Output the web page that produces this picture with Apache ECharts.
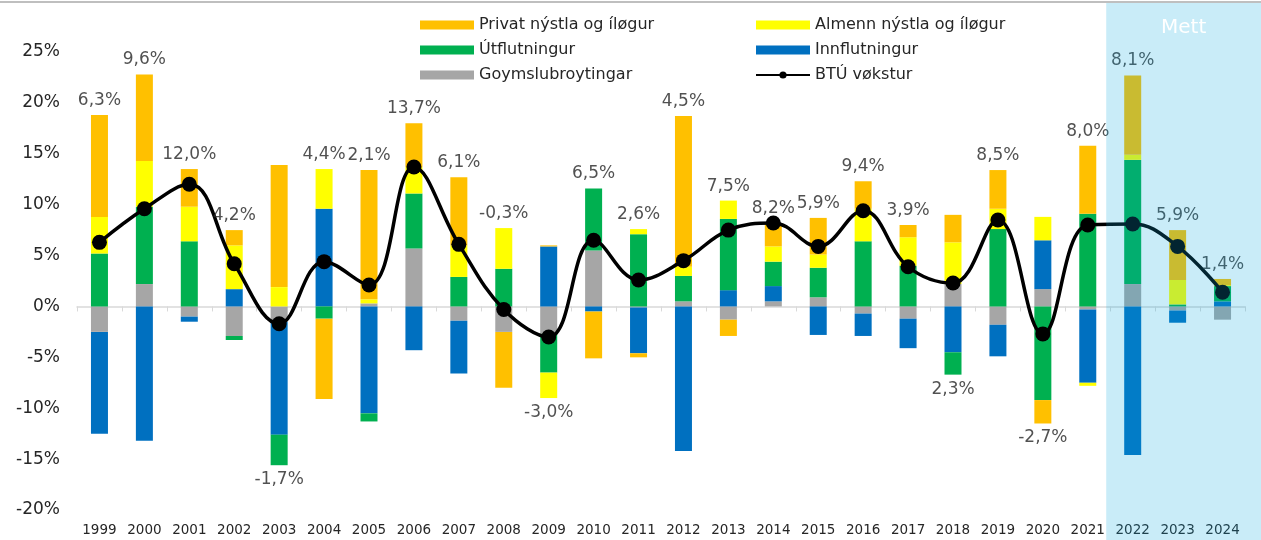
<!DOCTYPE html>
<html>
<head>
<meta charset="utf-8">
<script src="https://cdn.jsdelivr.net/npm/echarts@6/dist/echarts.min.js"></script>
<style>
  html, body { margin: 0; padding: 0; background: #fff; }
  #main { width: 1261px; height: 540px; }
</style>
</head>
<body>
<div id="main"></div>
<script>
const years = ['1999','2000','2001','2002','2003','2004','2005','2006','2007','2008','2009','2010','2011','2012','2013','2014','2015','2016','2017','2018','2019','2020','2021','2022','2023','2024'];

// BTÚ vøkstur (%)
const gdpGrowth = [6.3, 9.6, 12.0, 4.2, -1.7, 4.4, 2.1, 13.7, 6.1, -0.3, -3.0, 6.5, 2.6, 4.5, 7.5, 8.2, 5.9, 9.4, 3.9, 2.3, 8.5, -2.7, 8.0, 8.1, 5.9, 1.4];

// contributions, percentage points
const stockChange = [-2.5, 2.2, -1.0, -2.9, -1.5, 0, 0.3, 5.7, -1.4, -2.5, -2.7, 5.5, -0.1, 0.5, -1.3, 0.5, 0.9, -0.7, -1.2, 2.2, -1.8, 1.7, -0.3, 2.2, -0.4, -1.3];
const imports = [-10.0, -13.2, -0.5, 1.7, -11.1, 9.6, -10.5, -4.3, -5.2, 0, 5.9, -0.5, -4.5, -14.2, 1.6, 1.5, -2.8, -2.2, -2.9, -4.5, -3.1, 4.8, -7.2, -14.6, -1.2, 0.5];
const exportsPp = [5.2, 7.6, 6.4, -0.4, -3.0, -1.2, -0.8, 5.4, 2.9, 3.7, -3.8, 6.1, 7.1, 2.5, 7.0, 2.4, 2.9, 6.4, 4.0, -2.2, 7.6, -9.2, 9.1, 12.2, 0.2, 1.5];
const publicDemand = [3.6, 4.5, 3.4, 4.3, 1.9, 3.9, 0.4, 2.6, 3.1, 4.0, -2.5, 0, 0.5, 0.9, 1.8, 1.5, 1.3, 3.2, 2.8, 4.1, 2.0, 2.3, -0.3, 0.5, 2.4, 0.1];
const privateDemand = [10.0, 8.5, 3.7, 1.5, 12.0, -7.9, 12.7, 4.3, 6.7, -5.5, 0.1, -4.6, -0.4, 14.8, -1.6, 2.3, 3.6, 2.7, 1.2, 2.7, 3.8, -2.3, 6.7, 7.8, 4.9, 0.6];

// years whose growth label sits under the bar
const labelBelow = ['2003', '2009', '2018', '2020'];
const forecastFrom = '2022';

const yTicks = { min: -20, max: 25, interval: 5 };

const font = 'DejaVu Sans';
const txt = '#262626';

const parts = [stockChange, imports, exportsPp, publicDemand, privateDemand];
const labelData = years.map((y, i) => {
  let pos = 0, neg = 0;
  parts.forEach(p => { if (p[i] > 0) pos += p[i]; else neg += p[i]; });
  const below = labelBelow.includes(y);
  return { value: below ? neg : pos, growth: gdpGrowth[i], label: { position: below ? 'bottom' : 'top' } };
});

function bar(name, data, color) {
  return {
    name, type: 'bar', stack: 'total', data,
    barWidth: 17,
    itemStyle: { color },
    emphasis: { disabled: true }
  };
}

const chart = echarts.init(document.getElementById('main'));
chart.setOption({
  animation: false,
  textStyle: { fontFamily: font },
  grid: { left: 77, right: 16, top: 52, bottom: 30 },
  legend: [
    {
      orient: 'vertical', left: 415, top: 11, itemWidth: 54, itemHeight: 9, itemGap: 7,
      icon: 'rect',
      textStyle: { fontSize: 16, color: txt, fontFamily: font, lineHeight: 18 },
      data: ['Privat nýstla og íløgur', 'Útflutningur', 'Goymslubroytingar']
    },
    {
      orient: 'vertical', left: 750, top: 11, itemWidth: 54, itemHeight: 9, itemGap: 7,
      textStyle: { fontSize: 16, color: txt, fontFamily: font, lineHeight: 18 },
      data: [
        { name: 'Almenn nýstla og íløgur', icon: 'rect' },
        { name: 'Innflutningur', icon: 'rect' },
        { name: 'BTÚ vøkstur' }
      ]
    }
  ],
  xAxis: {
    type: 'category',
    data: years,
    axisLine: { lineStyle: { color: '#d9d9d9', width: 1.5 } },
    axisTick: { show: true, length: 5, lineStyle: { color: '#d9d9d9' } },
    axisLabel: { interval: 0, fontSize: 13.5, color: txt, margin: 13, fontFamily: font }
  },
  yAxis: {
    type: 'value',
    min: yTicks.min, max: yTicks.max, interval: yTicks.interval,
    axisLine: { show: false },
    axisTick: { show: false },
    splitLine: { show: false },
    axisLabel: { formatter: '{value}%', fontSize: 17, color: txt, margin: 17, fontFamily: font }
  },
  series: [
    bar('Goymslubroytingar', stockChange, '#a6a6a6'),
    bar('Innflutningur', imports, '#0070c0'),
    bar('Útflutningur', exportsPp, '#00b050'),
    bar('Almenn nýstla og íløgur', publicDemand, '#ffff00'),
    bar('Privat nýstla og íløgur', privateDemand, '#ffc000'),
    {
      name: 'BTÚ vøkstur', type: 'line', data: gdpGrowth, smooth: 0.4,
      symbol: 'circle', symbolSize: 15, z: 5,
      lineStyle: { color: '#000', width: 3.5 },
      itemStyle: { color: '#000' },
      emphasis: { disabled: true }
    },
    {
      name: 'labels', type: 'scatter', data: labelData, symbolSize: 0, z: 6, silent: true,
      label: {
        show: true, distance: 6, fontSize: 17, color: txt, fontFamily: font,
        formatter: p => p.data.growth.toFixed(1).replace('.', ',') + '%'
      }
    }
  ]
});

// forecast shading over 2022-2024, drawn on top like the original
const x0 = chart.convertToPixel({ xAxisIndex: 0 }, forecastFrom);
const x1 = chart.convertToPixel({ xAxisIndex: 0 }, years[years.indexOf(forecastFrom) + 1]);
const shadeLeft = x0 - (x1 - x0) / 2 - 4;
const W = chart.getWidth(), H = chart.getHeight();
chart.setOption({
  graphic: [
    { type: 'line', z: 50, shape: { x1: 0, y1: 2, x2: W, y2: 2 }, style: { stroke: '#bfbfbf', lineWidth: 2 } },
    { type: 'rect', z: 100, silent: true, shape: { x: shadeLeft, y: 3, width: W - shadeLeft, height: H - 3 },
      style: { fill: 'rgba(10,168,224,0.22)' } },
    { type: 'text', z: 101, x: (shadeLeft + W) / 2, y: 28,
      style: { text: 'Mett', fill: '#ffffff', font: '20px "DejaVu Sans"', align: 'center', verticalAlign: 'middle' } }
  ]
});
</script>
</body>
</html>
